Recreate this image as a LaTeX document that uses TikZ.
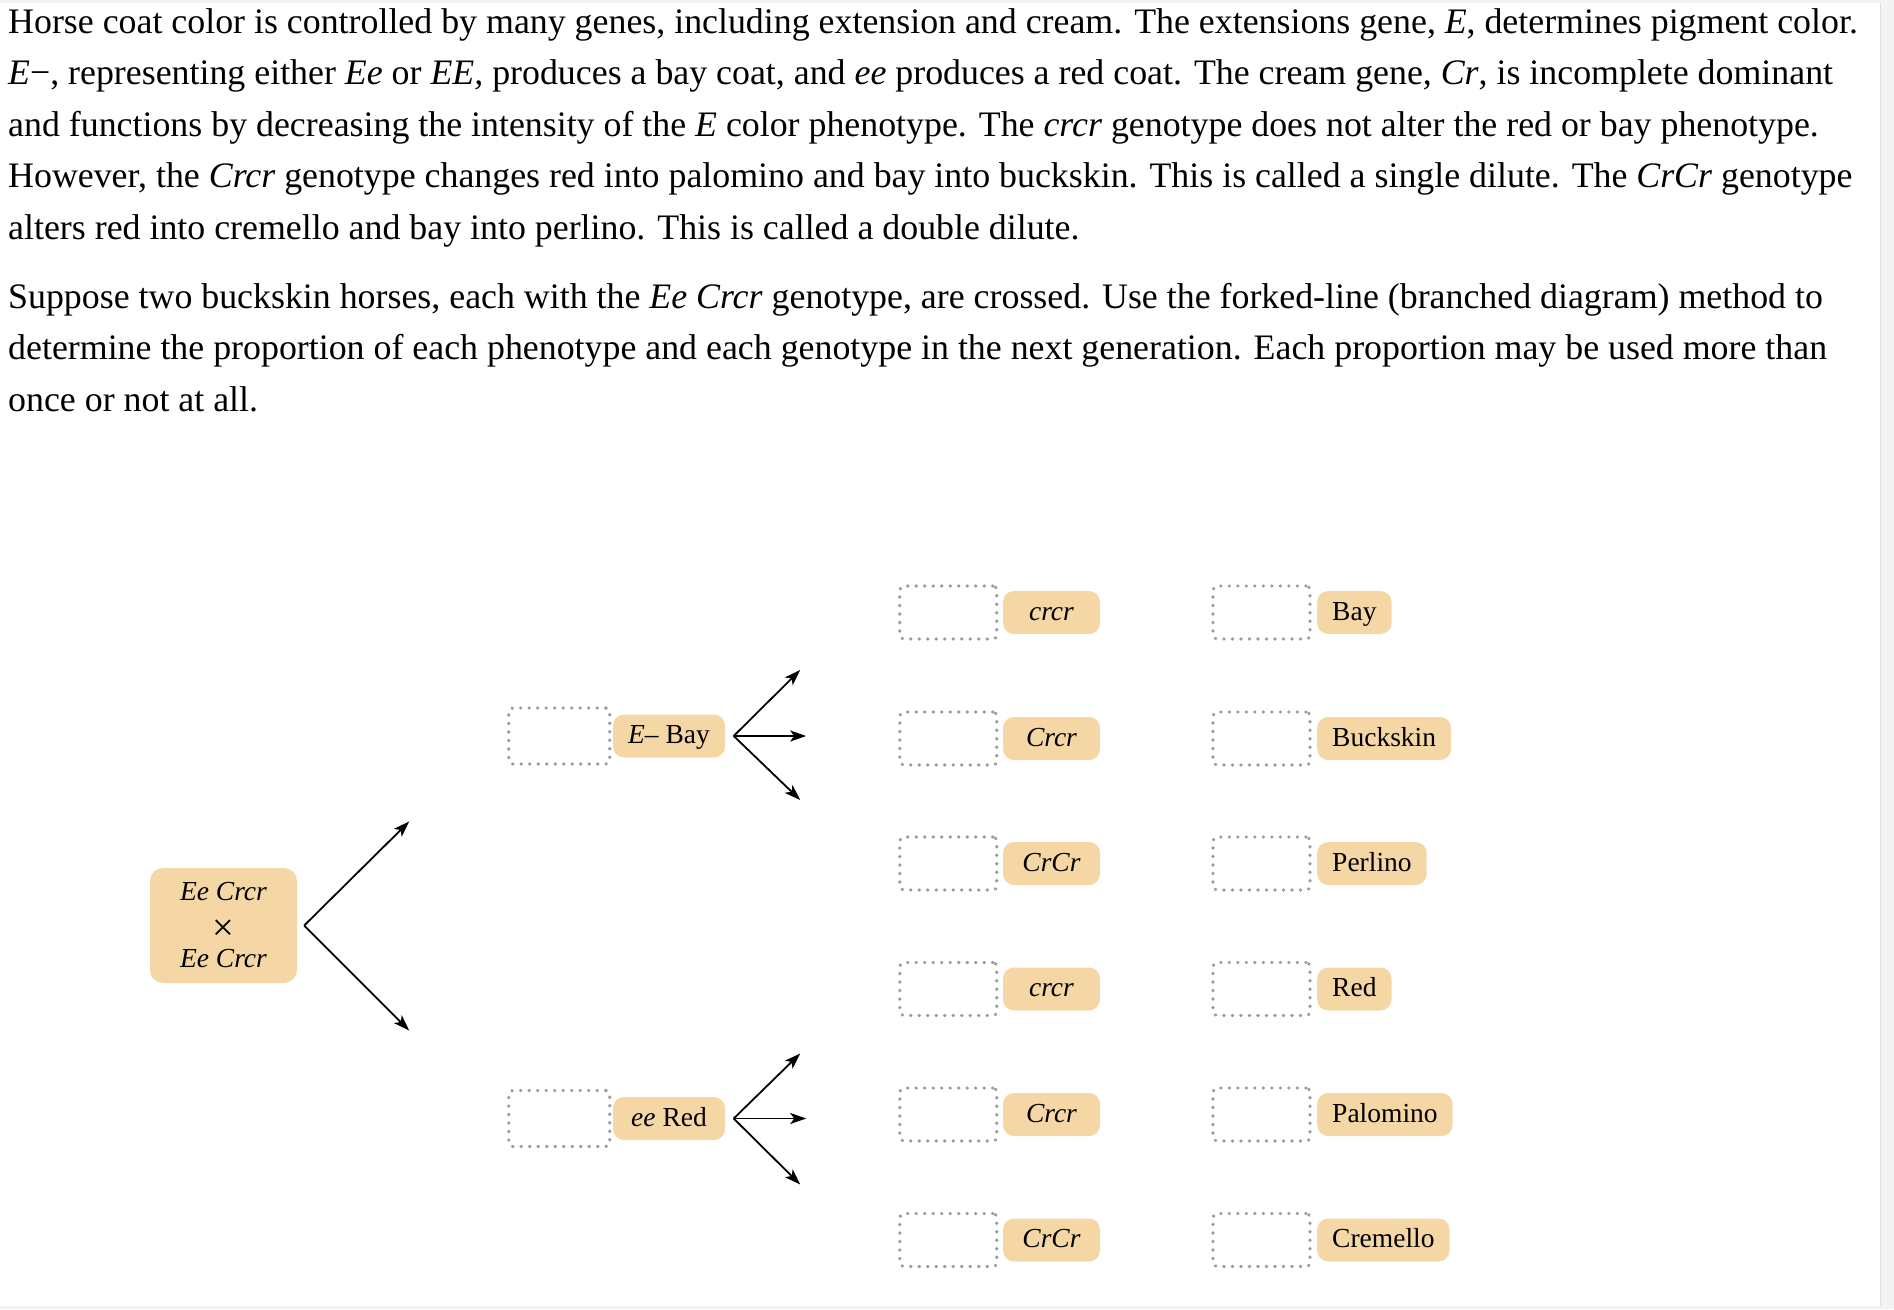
\documentclass[tikz,border=0pt]{standalone}
\usepackage{fontspec}
\setmainfont{Liberation Serif}
\usetikzlibrary{positioning,arrows.meta}
\definecolor{peach}{HTML}{F5D7A6}
\definecolor{dotgray}{HTML}{9A9A9A}
\definecolor{pagegray}{HTML}{F3F3F3}

\begin{document}
\begin{tikzpicture}[x=1pt,y=-1pt,
  txt/.style={anchor=base west,inner sep=0,font=\fontsize{35.85}{51.5}\selectfont},
  pill/.style={fill=peach,rounded corners=11pt,minimum height=43pt,inner xsep=15pt,inner ysep=0,
    text height=19pt,text depth=4pt,font=\fontsize{27.5}{33.5}\selectfont},
  crossbox/.style={fill=peach,rounded corners=13pt,minimum width=147pt,minimum height=115pt,
    inner sep=0,align=center,font=\fontsize{27.5}{33.5}\selectfont},
  slot/.style={draw=dotgray,line width=3.4pt,line cap=round,dash pattern=on 0.3pt off 8.2pt,
    rounded corners=4pt,minimum width=97pt,minimum height=53pt,inner sep=0,outer sep=0},
  arr/.style={line width=1.8pt,-{Stealth[length=16pt,width=11pt,inset=4pt]}}]
\useasboundingbox (0,0) rectangle (1894,1309);
% page edges
\fill[pagegray] (0,0) rectangle (1894,3);
\fill[pagegray] (1880,0) rectangle (1894,1309);
\fill[pagegray] (0,1306) rectangle (1894,1309);
\draw[black!12,line width=1pt] (1880,3) -- (1880,1306);

% question text
\node[txt] (l1) at (8,33) {Horse coat color is controlled by many genes, including extension and cream. The extensions gene, \textit{E}, determines pigment color.};
\node[txt] (l2) at (8,84.5) {\textit{E}−, representing either \textit{Ee} or \textit{EE,} produces a bay coat, and \textit{ee} produces a red coat. The cream gene, \textit{Cr}, is incomplete dominant};
\node[txt] (l3) at (8,136) {and functions by decreasing the intensity of the \textit{E} color phenotype. The \textit{crcr} genotype does not alter the red or bay phenotype.};
\node[txt] (l4) at (8,187.5) {However, the \textit{Crcr} genotype changes red into palomino and bay into buckskin. This is called a single dilute. The \textit{CrCr} genotype};
\node[txt] (l5) at (8,239) {alters red into cremello and bay into perlino. This is called a double dilute.};
\node[txt] (l6) at (8,308) {Suppose two buckskin horses, each with the \textit{Ee Crcr} genotype, are crossed. Use the forked-line (branched diagram) method to};
\node[txt] (l7) at (8,359.5) {determine the proportion of each phenotype and each genotype in the next generation. Each proportion may be used more than};
\node[txt] (l8) at (8,411) {once or not at all.};

% parents and first fork
\node[crossbox] (cross) at (223.5,925.5) {\textit{Ee Crcr}\\\raisebox{-6pt}{\scalebox{1.4}{×}}\\\textit{Ee Crcr}};
\coordinate (F0) at ([xshift=7pt]cross.east);
\coordinate (T0a) at ([shift={(105,-104)}]F0); \coordinate (T0b) at ([shift={(105,105)}]F0);
\draw[arr] (F0) -- (T0a);
\draw[arr] (F0) -- (T0b);

% E- and ee
\node[pill,minimum width=112pt] (ebay) at (669,736) {\textit{E}– Bay};
\node[slot,minimum width=101pt,minimum height=56pt,left=3pt of ebay] (sebay) {};
\node[pill,minimum width=112pt] (eered) at (669,1118.5) {\textit{ee} Red};
\node[slot,minimum width=101pt,minimum height=56pt,left=3pt of eered] (seered) {};

\coordinate (F1) at ([xshift=8.5pt]ebay.east);
\coordinate (T1a) at ([shift={(66.5,-66)}]F1); \coordinate (T1b) at ([shift={(72.5,0)}]F1); \coordinate (T1c) at ([shift={(66.5,64)}]F1);
\draw[arr] (F1) -- (T1a); \draw[arr] (F1) -- (T1b); \draw[arr] (F1) -- (T1c);
\coordinate (F2) at ([xshift=8.5pt]eered.east);
\coordinate (T2a) at ([shift={(66.5,-65)}]F2); \coordinate (T2b) at ([shift={(72.5,0)}]F2); \coordinate (T2c) at ([shift={(66.5,66)}]F2);
\draw[arr] (F2) -- (T2a); \draw[arr] (F2) -- (T2b); \draw[arr] (F2) -- (T2c);

% cream genotypes
\node[pill,minimum width=97pt] (g1) at (1051.5,612.5) {\textit{crcr}};
\node[pill,minimum width=97pt] (g2) at (1051.5,738.5) {\textit{Crcr}};
\node[pill,minimum width=97pt] (g3) at (1051.5,863.5) {\textit{CrCr}};
\node[pill,minimum width=97pt] (g4) at (1051.5,989) {\textit{crcr}};
\node[pill,minimum width=97pt] (g5) at (1051.5,1114.5) {\textit{Crcr}};
\node[pill,minimum width=97pt] (g6) at (1051.5,1240) {\textit{CrCr}};
\node[slot,left=6pt of g1] (sg1) {}; \node[slot,left=6pt of g2] (sg2) {};
\node[slot,left=6pt of g3] (sg3) {}; \node[slot,left=6pt of g4] (sg4) {};
\node[slot,left=6pt of g5] (sg5) {}; \node[slot,left=6pt of g6] (sg6) {};

% phenotypes
\node[pill,anchor=west] (p1) at (1317,612.5) {Bay};
\node[pill,anchor=west] (p2) at (1317,738.5) {Buckskin};
\node[pill,anchor=west] (p3) at (1317,863.5) {Perlino};
\node[pill,anchor=west] (p4) at (1317,989) {Red};
\node[pill,anchor=west] (p5) at (1317,1114.5) {Palomino};
\node[pill,anchor=west] (p6) at (1317,1240) {Cremello};
\node[slot,left=7pt of p1] (sp1) {}; \node[slot,left=7pt of p2] (sp2) {};
\node[slot,left=7pt of p3] (sp3) {}; \node[slot,left=7pt of p4] (sp4) {};
\node[slot,left=7pt of p5] (sp5) {}; \node[slot,left=7pt of p6] (sp6) {};
\end{tikzpicture}
\end{document}
